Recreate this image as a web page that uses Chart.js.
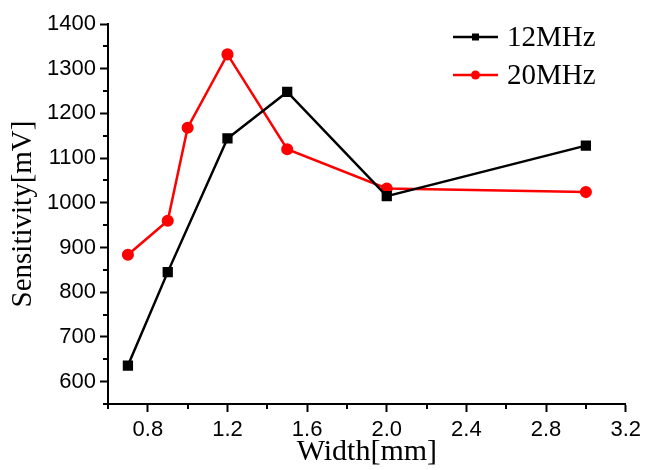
<!DOCTYPE html>
<html>
<head>
<meta charset="utf-8">
<script src="https://cdn.jsdelivr.net/npm/chart.js@4.4.1/dist/chart.umd.min.js"></script>
<style>
  html, body { margin: 0; padding: 0; background: #fff; }
  #wrap { width: 646px; height: 470px; }
</style>
</head>
<body>
<div id="wrap"><canvas id="sensChart" width="646" height="470"></canvas></div>
<script>
// Data
const widths12 = [0.7, 0.9, 1.2, 1.5, 2.0, 3.0];
const sens12 = [636, 845, 1144, 1248, 1015, 1128];
const widths20 = [0.7, 0.9, 1.0, 1.2, 1.5, 2.0, 3.0];
const sens20 = [884, 960, 1168, 1332, 1120, 1032, 1024];
const seriesNames = ['12MHz', '20MHz'];

const sansFont = "'Liberation Sans', Arial, sans-serif";
const serifFont = "'Liberation Serif', 'Times New Roman', serif";

function toPoints(xs, ys) {
    return xs.map((x, i) => ({ x: x, y: ys[i] }));
}

// Short ticks for the unlabelled positions
const minorTicks = {
    id: 'minorTicks',
    afterDraw(chart) {
        const ctx = chart.ctx;
        const xs = chart.scales.x, ys = chart.scales.y;
        ctx.save();
        ctx.strokeStyle = '#000';
        ctx.lineWidth = 2;
        xs.ticks.forEach(t => {
            if (t.label === '') {
                const px = Math.round(xs.getPixelForValue(t.value));
                ctx.beginPath();
                ctx.moveTo(px, xs.top);
                ctx.lineTo(px, xs.top + 5);
                ctx.stroke();
            }
        });
        ys.ticks.forEach(t => {
            if (t.label === '') {
                const py = Math.round(ys.getPixelForValue(t.value));
                ctx.beginPath();
                ctx.moveTo(ys.right, py);
                ctx.lineTo(ys.right - 5, py);
                ctx.stroke();
            }
        });
        ctx.restore();
    }
};

// Legend in the top right corner: line with marker, then name
const lineLegend = {
    id: 'lineLegend',
    afterDraw(chart) {
        const ctx = chart.ctx;
        const x0 = 453, len = 45, y0 = 37, gap = 38;
        ctx.save();
        chart.data.datasets.forEach((ds, i) => {
            const y = y0 + i * gap;
            ctx.strokeStyle = ds.borderColor;
            ctx.lineWidth = 2.5;
            ctx.beginPath();
            ctx.moveTo(x0, y);
            ctx.lineTo(x0 + len, y);
            ctx.stroke();
            ctx.fillStyle = ds.backgroundColor;
            const cx = x0 + len / 2;
            if (ds.pointStyle === 'rect') {
                ctx.fillRect(cx - 3.5, y - 3.5, 7, 7);
            } else {
                ctx.beginPath();
                ctx.arc(cx, y, 4.5, 0, Math.PI * 2);
                ctx.fill();
            }
            ctx.fillStyle = '#000';
            ctx.font = '29px ' + serifFont;
            ctx.textBaseline = 'middle';
            ctx.fillText(ds.label, x0 + len + 9, y + 1);
        });
        ctx.restore();
    }
};

const ctx = document.getElementById('sensChart').getContext('2d');
new Chart(ctx, {
    type: 'line',
    data: {
        datasets: [{
            label: seriesNames[0],
            data: toPoints(widths12, sens12),
            borderColor: '#000000',
            backgroundColor: '#000000',
            borderWidth: 2.5,
            pointStyle: 'rect',
            pointRadius: 5.5,
            tension: 0
        }, {
            label: seriesNames[1],
            data: toPoints(widths20, sens20),
            borderColor: '#ff0000',
            backgroundColor: '#ff0000',
            borderWidth: 2.5,
            pointStyle: 'circle',
            pointRadius: 4.8,
            tension: 0
        }]
    },
    options: {
        responsive: false,
        animation: false,
        layout: { padding: { left: 0, right: 20, top: 24, bottom: 0 } },
        plugins: {
            legend: { display: false },
            tooltip: { enabled: false }
        },
        scales: {
            x: {
                type: 'linear',
                min: 0.6,
                max: 3.2,
                border: { display: true, color: '#000', width: 2 },
                grid: {
                    drawOnChartArea: false,
                    tickLength: 8,
                    tickWidth: 2,
                    tickColor: c => (c.tick && c.tick.label !== '' ? '#000' : 'rgba(0,0,0,0)')
                },
                ticks: {
                    stepSize: 0.2,
                    color: '#000',
                    padding: 5,
                    maxRotation: 0,
                    autoSkip: false,
                    font: { family: sansFont, size: 22 },
                    callback: v => (Math.round(v * 10) % 4 === 0 ? v.toFixed(1) : '')
                },
                title: {
                    display: true,
                    text: 'Width[mm]',
                    color: '#000',
                    font: { family: serifFont, size: 30 },
                    padding: { top: -4, bottom: 0 }
                },
                afterFit: s => { s.height = 66; }
            },
            y: {
                min: 550,
                max: 1400,
                border: { display: true, color: '#000', width: 2 },
                grid: {
                    drawOnChartArea: false,
                    tickLength: 8,
                    tickWidth: 2,
                    tickColor: c => (c.tick && c.tick.label !== '' ? '#000' : 'rgba(0,0,0,0)')
                },
                ticks: {
                    stepSize: 50,
                    color: '#000',
                    padding: 4,
                    autoSkip: false,
                    font: { family: sansFont, size: 22 },
                    callback: v => (v % 100 === 0 ? String(v) : '')
                },
                title: {
                    display: true,
                    text: 'Sensitivity[mV]',
                    color: '#000',
                    font: { family: serifFont, size: 29 },
                    padding: { top: 6, bottom: 0 }
                },
                afterFit: s => { s.width = 108; }
            }
        }
    },
    plugins: [minorTicks, lineLegend]
});
</script>
</body>
</html>
